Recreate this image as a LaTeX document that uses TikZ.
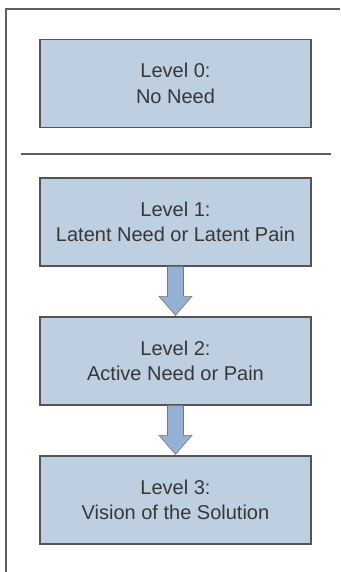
\documentclass[tikz,border=0pt]{standalone}
\usepackage{fontspec}
\setmainfont{Liberation Sans}
\usetikzlibrary{calc}
\definecolor{boxfill}{RGB}{191,207,226}
\definecolor{boxline}{RGB}{85,85,85}
\definecolor{arrowfill}{RGB}{150,176,212}
\definecolor{txt}{RGB}{55,55,55}
\definecolor{frameline}{RGB}{95,95,95}
\begin{document}
\begin{tikzpicture}[x=1pt,y=-1pt,
  level/.style={draw=boxline, line width=1.3pt, fill=boxfill,
    minimum width=271pt, minimum height=88pt, inner sep=0pt,
    align=center, text=txt, font=\fontsize{20}{25.5}\selectfont},
  fat/.style={draw=boxline!80, line width=0.6pt, fill=arrowfill}]
  \useasboundingbox (0,0) rectangle (340,572);
  \fill[white] (0,0) rectangle (340,572);
  % open frame: top and left edges
  \coordinate (ftr) at (340,9);
  \coordinate (ftl) at (6,9);
  \coordinate (fbl) at (6,572);
  \draw[frameline, line width=1.8pt] (ftr) -- (ftl) -- (fbl);
  % separator
  \coordinate (sl) at (21,154);
  \coordinate (sr) at (331,154);
  \draw[frameline, line width=1.2pt] (sl) -- (sr);
  % level boxes
  \node[level] (b0) at (175.5,83.5) {Level 0:\\No Need};
  \node[level] (b1) at (175.5,222) {Level 1:\\Latent Need or Latent Pain};
  \node[level] (b2) at (175.5,361) {Level 2:\\Active Need or Pain};
  \node[level] (b3) at (175.5,500) {Level 3:\\Vision of the Solution};
  % block arrows between levels
  \foreach \a/\b in {b1/b2, b2/b3} {
    \draw[fat] ($(\a.south)+(-8,0)$) -- ($(\b.north)+(-8,-20)$)
      -- ($(\b.north)+(-16.5,-20)$) -- ($(\b.north)+(0,-1)$)
      -- ($(\b.north)+(16.5,-20)$) -- ($(\b.north)+(8,-20)$)
      -- ($(\a.south)+(8,0)$);
  }
\end{tikzpicture}
\end{document}
